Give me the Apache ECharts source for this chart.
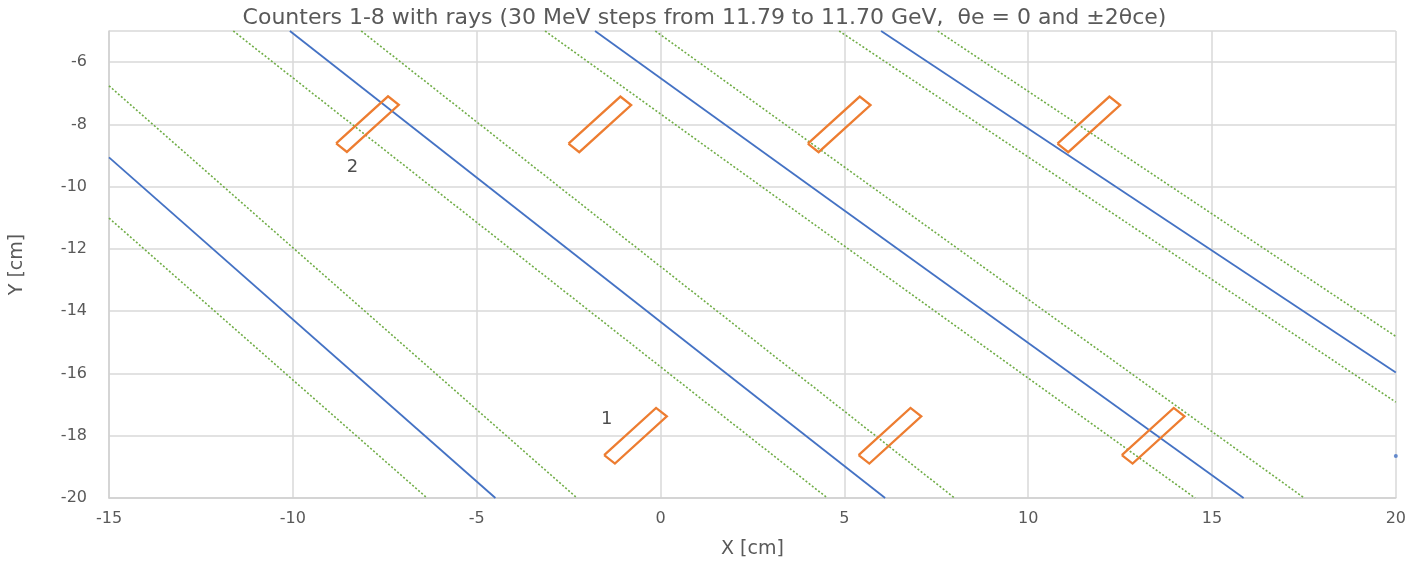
<!DOCTYPE html>
<html>
<head>
<meta charset="utf-8">
<title>Counters 1-8 with rays</title>
<script src="https://cdn.jsdelivr.net/npm/echarts@6/dist/echarts.min.js"></script>
<style>
  html, body { margin: 0; padding: 0; background: #ffffff; }
  #chart { width: 1409px; height: 564px; }
</style>
</head>
<body>
<div id="chart"></div>
<script>
// Central rays (θe = 0), one per beam energy: [start, end] in cm
const centralRays = [
  [[-15, -9.06], [-4.49, -20]],
  [[-10.08, -5], [6.11, -20]],
  [[-1.78, -5], [15.86, -20]],
  [[6.0, -5], [20, -15.97]]
];

// Edge rays (±2θce) bracketing each central ray
const edgeRays = [
  [[-15, -6.76], [-2.27, -20]],
  [[-15, -11.01], [-6.35, -20]],
  [[-11.62, -5], [4.54, -20]],
  [[-8.14, -5], [8.0, -20]],
  [[-3.14, -5], [14.54, -20]],
  [[-0.14, -5], [17.51, -20]],
  [[4.86, -5], [20, -16.92]],
  [[7.54, -5], [20, -14.81]]
];

// Counter centres (cm)
const counterX = [-7.97, -1.65, 4.86, 11.65, -0.68, 6.24, 13.4];
const counterY = [-7.99, -8.0, -8.0, -8.0, -18.0, -18.0, -18.0];

// Counter number labels
const counterLabels = ['2', '1'];
const counterLabelX = [-8.38, -1.46];
const counterLabelY = [-9.37, -17.48];

// Stray hit marker on the right edge
const strayPoint = [[20, -18.65]];

// Axis ranges and steps
const xMin = -15, xMax = 20, xStep = 5;
const yMin = -20, yMax = -5, yStep = 2;

// Counter outline geometry
const counterLength = 2.07;
const counterWidth = 0.4;
const counterAngleDeg = 47;

function counterOutline(cx, cy) {
  const a = counterAngleDeg * Math.PI / 180;
  const ux = Math.cos(a) * counterLength / 2, uy = Math.sin(a) * counterLength / 2;
  const vx = Math.sin(a) * counterWidth / 2, vy = -Math.cos(a) * counterWidth / 2;
  return [
    [cx - ux - vx, cy - uy - vy],
    [cx - ux + vx, cy - uy + vy],
    [cx + ux + vx, cy + uy + vy],
    [cx + ux - vx, cy + uy - vy],
    [cx - ux - vx, cy - uy - vy]
  ];
}

const FONT = 'DejaVu Sans';
const series = [];

edgeRays.forEach(function (r) {
  series.push({
    type: 'line', data: r, symbol: 'none', silent: true, z: 2,
    lineStyle: { color: '#70AD47', width: 1.6, type: [2, 2] }
  });
});

centralRays.forEach(function (r) {
  series.push({
    type: 'line', data: r, symbol: 'none', silent: true, z: 3,
    lineStyle: { color: '#4472C4', width: 1.8 }
  });
});

counterX.forEach(function (cx, i) {
  series.push({
    type: 'line', data: counterOutline(cx, counterY[i]), symbol: 'none', silent: true, z: 4,
    lineStyle: { color: '#ED7D31', width: 2.3, join: 'miter' }
  });
});

series.push({
  type: 'scatter', silent: true, z: 5,
  data: counterLabels.map(function (t, i) { return { value: [counterLabelX[i], counterLabelY[i]], name: t }; }),
  symbolSize: 0,
  label: {
    show: true, position: 'inside', formatter: function (p) { return p.name; },
    fontFamily: FONT, fontSize: 18, color: '#1f1f1f'
  }
});

series.push({
  type: 'scatter', silent: true, z: 5, data: strayPoint, symbolSize: 4,
  itemStyle: { color: '#4472C4' }
});

const chart = echarts.init(document.getElementById('chart'));
chart.setOption({
  animation: false,
  backgroundColor: '#ffffff',
  title: {
    text: 'Counters 1-8 with rays (30 MeV steps from 11.79 to 11.70 GeV,  θe = 0 and ±2θce)',
    left: 'center', top: 2,
    textStyle: { fontFamily: FONT, fontSize: 22, fontWeight: 'normal', color: '#595959' }
  },
  grid: { left: 103, right: 11, top: 31, bottom: 56, containLabel: false },
  xAxis: {
    type: 'value', min: xMin, max: xMax, interval: xStep,
    name: 'X [cm]', nameLocation: 'middle', nameGap: 42,
    nameTextStyle: { fontFamily: FONT, fontSize: 19, color: '#595959' },
    axisLine: { show: true, onZero: false, lineStyle: { color: '#D0D0D0', width: 1.5 } },
    axisTick: { show: false },
    axisLabel: { fontFamily: FONT, fontSize: 16, color: '#595959', margin: 13 },
    splitLine: { show: true, lineStyle: { color: '#D9D9D9', width: 1.5 } }
  },
  yAxis: {
    type: 'value', min: yMin, max: yMax, interval: yStep,
    name: 'Y [cm]', nameLocation: 'middle', nameGap: 82, nameRotate: 90,
    nameTextStyle: { fontFamily: FONT, fontSize: 19, color: '#595959' },
    axisLine: { show: true, onZero: false, lineStyle: { color: '#D0D0D0', width: 1.5 } },
    axisTick: { show: false },
    axisLabel: {
      fontFamily: FONT, fontSize: 16, color: '#595959', margin: 22,
      formatter: function (v) { return v === yMax ? '' : String(v); }
    },
    splitLine: { show: true, lineStyle: { color: '#D9D9D9', width: 1.5 } }
  },
  series: series
});
</script>
</body>
</html>
